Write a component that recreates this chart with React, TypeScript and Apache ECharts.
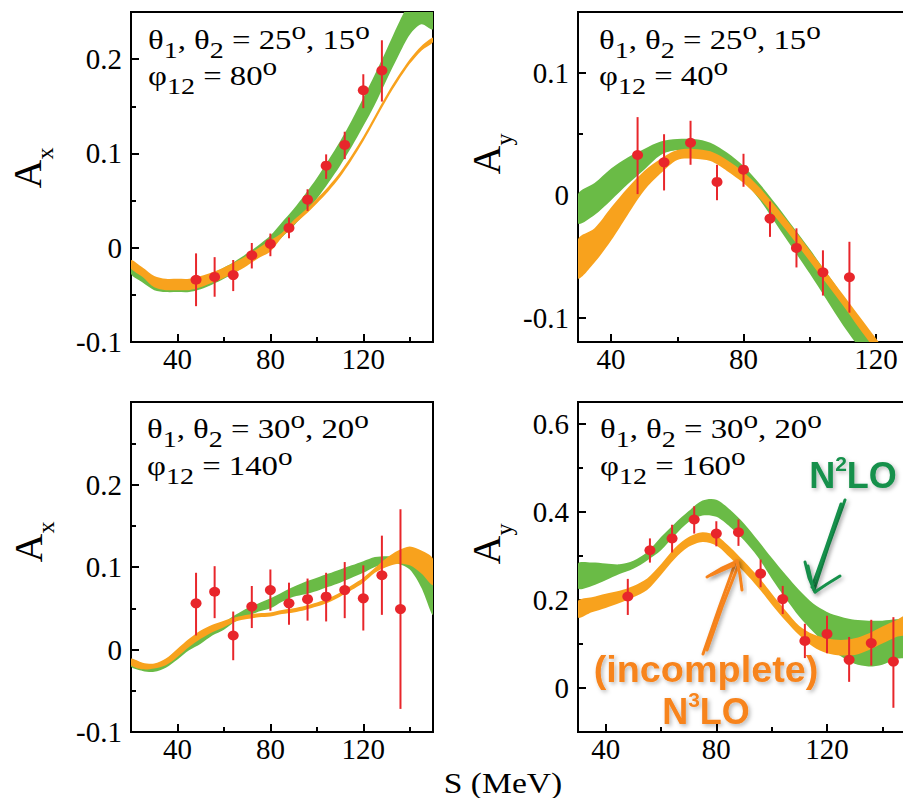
import React, { useEffect, useRef } from 'react';
import * as echarts from 'echarts';

const SERIF = 'Liberation Serif, Times New Roman, serif';
const SANS = 'Liberation Sans, Arial, sans-serif';
const RED = '#e8262b';
const GREEN_BAND = '#6abb46';
const ORANGE_BAND = '#f8a21d';
const GREEN_TEXT = '#14904b';
const ORANGE_TEXT = '#f7841e';

// ---------- Panel 1: A_x, theta 25/15, phi 80 ----------
const p1S = [48, 56, 64, 72, 80, 88, 96, 104, 112, 120, 128];
const p1Val = [-0.034, -0.031, -0.029, -0.008, 0.004, 0.021, 0.051, 0.087, 0.109, 0.167, 0.188];
const p1Lo = [-0.062, -0.052, -0.046, -0.022, -0.009, 0.010, 0.039, 0.073, 0.094, 0.148, 0.155];
const p1Hi = [-0.006, -0.010, -0.013, 0.005, 0.015, 0.032, 0.062, 0.099, 0.123, 0.184, 0.220];
const p1BandS = [20, 25, 30, 35, 40, 45, 50, 55, 60, 65, 70, 75, 80, 85, 90, 95, 100, 105, 110, 115, 120, 125, 130, 135, 140, 145, 150];
const p1N2Lo = [-0.028, -0.037, -0.045, -0.047, -0.047, -0.047, -0.044, -0.039, -0.033, -0.026, -0.018, -0.010, -0.001, 0.011, 0.023, 0.037, 0.052, 0.069, 0.087, 0.107, 0.129, 0.152, 0.178, 0.203, 0.226, 0.237, 0.232];
const p1N2Hi = [-0.015, -0.023, -0.031, -0.034, -0.034, -0.034, -0.031, -0.027, -0.021, -0.014, -0.006, 0.003, 0.013, 0.027, 0.041, 0.057, 0.074, 0.093, 0.113, 0.135, 0.159, 0.184, 0.210, 0.237, 0.262, 0.285, 0.300];
const p1N3Lo = [-0.022, -0.031, -0.042, -0.045, -0.045, -0.045, -0.042, -0.037, -0.032, -0.026, -0.019, -0.011, -0.004, 0.011, 0.024, 0.035, 0.047, 0.060, 0.075, 0.093, 0.113, 0.135, 0.157, 0.177, 0.195, 0.209, 0.218];
const p1N3Hi = [-0.013, -0.021, -0.030, -0.033, -0.033, -0.033, -0.030, -0.026, -0.021, -0.015, -0.008, 0.000, 0.008, 0.016, 0.029, 0.040, 0.052, 0.065, 0.080, 0.098, 0.118, 0.140, 0.162, 0.182, 0.200, 0.214, 0.223];
const p1XTicks = [40, 80, 120];
const p1XMinor = [60, 100, 140];
const p1YTicks = [-0.1, 0, 0.1, 0.2];
const p1YMinor = [-0.05, 0.05, 0.15];

// ---------- Panel 2: A_y, theta 25/15, phi 40 ----------
const p2S = [48, 56, 64, 72, 80, 88, 96, 104, 112];
const p2Val = [0.033, 0.027, 0.043, 0.011, 0.021, -0.019, -0.043, -0.063, -0.067];
const p2Lo = [0.001, 0.004, 0.025, -0.004, 0.007, -0.034, -0.059, -0.082, -0.096];
const p2Hi = [0.064, 0.050, 0.061, 0.025, 0.034, -0.005, -0.027, -0.045, -0.038];
const p2BandS = [30, 35, 40, 45, 50, 55, 60, 65, 70, 75, 80, 85, 90, 95, 100, 105, 110, 115, 120, 125, 130];
const p2N2Hi = [0.001, 0.010, 0.022, 0.031, 0.038, 0.044, 0.046, 0.046, 0.043, 0.035, 0.024, 0.009, -0.008, -0.026, -0.044, -0.063, -0.082, -0.101, -0.120, -0.138, -0.155];
const p2N2Lo = [-0.023, -0.016, -0.004, 0.009, 0.021, 0.033, 0.037, 0.036, 0.032, 0.024, 0.012, -0.004, -0.024, -0.044, -0.064, -0.085, -0.106, -0.125, -0.145, -0.165, -0.185];
const p2N3Hi = [-0.036, -0.027, -0.010, 0.006, 0.020, 0.030, 0.037, 0.038, 0.036, 0.029, 0.019, 0.006, -0.010, -0.027, -0.045, -0.063, -0.081, -0.099, -0.117, -0.135, -0.152];
const p2N3Lo = [-0.068, -0.055, -0.037, -0.016, 0.004, 0.018, 0.029, 0.030, 0.028, 0.020, 0.010, -0.003, -0.019, -0.036, -0.054, -0.072, -0.090, -0.109, -0.127, -0.145, -0.162];
const p2XTicks = [40, 80, 120];
const p2XMinor = [60, 100];
const p2YTicks = [-0.1, 0, 0.1];
const p2YMinor = [-0.05, 0.05];

// ---------- Panel 3: A_x, theta 30/20, phi 140 ----------
const p3S = [48, 56, 64, 72, 80, 88, 96, 104, 112, 120, 128, 136];
const p3Val = [0.056, 0.070, 0.017, 0.052, 0.072, 0.056, 0.061, 0.064, 0.072, 0.062, 0.090, 0.049];
const p3Lo = [0.017, 0.038, -0.013, 0.026, 0.047, 0.030, 0.035, 0.034, 0.038, 0.023, 0.042, -0.072];
const p3Hi = [0.093, 0.101, 0.046, 0.077, 0.097, 0.081, 0.086, 0.093, 0.106, 0.102, 0.138, 0.170];
const p3BandS = [20, 25, 30, 35, 40, 45, 50, 55, 60, 65, 70, 75, 80, 85, 90, 95, 100, 105, 110, 115, 120, 125, 130, 135, 140, 145, 150];
const p3N2Hi = [-0.012, -0.017, -0.018, -0.012, 0.000, 0.010, 0.019, 0.026, 0.033, 0.042, 0.050, 0.056, 0.062, 0.069, 0.076, 0.082, 0.087, 0.092, 0.097, 0.102, 0.107, 0.112, 0.113, 0.112, 0.108, 0.100, 0.080];
const p3N2Lo = [-0.021, -0.026, -0.027, -0.022, -0.012, -0.001, 0.007, 0.017, 0.024, 0.034, 0.040, 0.046, 0.050, 0.058, 0.064, 0.067, 0.071, 0.076, 0.081, 0.087, 0.093, 0.100, 0.105, 0.104, 0.097, 0.075, 0.042];
const p3N3Hi = [-0.011, -0.016, -0.017, -0.011, 0.001, 0.013, 0.023, 0.030, 0.035, 0.039, 0.042, 0.044, 0.045, 0.048, 0.050, 0.053, 0.057, 0.062, 0.069, 0.078, 0.087, 0.099, 0.111, 0.120, 0.125, 0.120, 0.110];
const p3N3Lo = [-0.019, -0.024, -0.023, -0.019, -0.009, 0.003, 0.013, 0.021, 0.027, 0.034, 0.037, 0.039, 0.040, 0.043, 0.045, 0.048, 0.052, 0.057, 0.064, 0.072, 0.081, 0.093, 0.100, 0.104, 0.102, 0.092, 0.078];
const p3XTicks = [40, 80, 120];
const p3XMinor = [60, 100, 140];
const p3YTicks = [-0.1, 0, 0.1, 0.2];
const p3YMinor = [-0.05, 0.05, 0.15, 0.25];

// ---------- Panel 4: A_y, theta 30/20, phi 160 ----------
const p4S = [48, 56, 64, 72, 80, 88, 96, 104, 112, 120, 128, 136, 144];
const p4Val = [0.208, 0.313, 0.340, 0.383, 0.351, 0.354, 0.260, 0.202, 0.107, 0.123, 0.064, 0.102, 0.060];
const p4Lo = [0.166, 0.285, 0.308, 0.351, 0.322, 0.323, 0.229, 0.168, 0.068, 0.079, 0.014, 0.051, -0.045];
const p4Hi = [0.248, 0.340, 0.371, 0.413, 0.379, 0.383, 0.292, 0.232, 0.146, 0.164, 0.116, 0.155, 0.161];
const p4BandS = [30, 35, 40, 45, 50, 55, 60, 65, 70, 75, 80, 85, 90, 95, 100, 105, 110, 115, 120, 125, 130, 135, 140, 145, 150];
const p4N2Hi = [0.283, 0.285, 0.283, 0.281, 0.289, 0.309, 0.343, 0.374, 0.402, 0.426, 0.428, 0.405, 0.374, 0.336, 0.296, 0.258, 0.222, 0.192, 0.173, 0.162, 0.155, 0.153, 0.153, 0.156, 0.159];
const p4N2Lo = [0.226, 0.232, 0.245, 0.259, 0.271, 0.290, 0.313, 0.347, 0.377, 0.392, 0.389, 0.366, 0.336, 0.298, 0.249, 0.204, 0.162, 0.128, 0.098, 0.072, 0.055, 0.049, 0.053, 0.066, 0.073];
const p4N3Hi = [0.198, 0.206, 0.214, 0.221, 0.232, 0.249, 0.281, 0.318, 0.343, 0.354, 0.346, 0.320, 0.288, 0.254, 0.215, 0.176, 0.141, 0.122, 0.113, 0.109, 0.113, 0.124, 0.140, 0.154, 0.168];
const p4N3Lo = [0.160, 0.172, 0.182, 0.193, 0.206, 0.223, 0.257, 0.294, 0.321, 0.332, 0.324, 0.296, 0.264, 0.229, 0.190, 0.153, 0.120, 0.094, 0.079, 0.074, 0.075, 0.086, 0.101, 0.116, 0.124];
const p4XTicks = [40, 80, 120];
const p4XMinor = [60, 100, 140];
const p4YTicks = [0, 0.2, 0.4, 0.6];
const p4YMinor = [0.1, 0.3, 0.5];

// panel annotation texts
const p1Angles = ['{m|θ}{s|1}{m|, θ}{s|2}{m| = 25}{o|o}{m|, 15}{o|o}', '{m|φ}{s|12}{m| = 80}{o|o}'];
const p2Angles = ['{m|θ}{s|1}{m|, θ}{s|2}{m| = 25}{o|o}{m|, 15}{o|o}', '{m|φ}{s|12}{m| = 40}{o|o}'];
const p3Angles = ['{m|θ}{s|1}{m|, θ}{s|2}{m| = 30}{o|o}{m|, 20}{o|o}', '{m|φ}{s|12}{m| = 140}{o|o}'];
const p4Angles = ['{m|θ}{s|1}{m|, θ}{s|2}{m| = 30}{o|o}{m|, 20}{o|o}', '{m|φ}{s|12}{m| = 160}{o|o}'];

const panels = [
  {
    grid: { left: 131, top: 12, width: 302, height: 330 },
    xMin: 20, xMax: 150, yMin: -0.1, yMax: 0.25,
    xTicks: p1XTicks, xMinor: p1XMinor, yTicks: p1YTicks, yMinor: p1YMinor,
    S: p1S, val: p1Val, lo: p1Lo, hi: p1Hi,
    bandS: p1BandS, n2Lo: p1N2Lo, n2Hi: p1N2Hi, n3Lo: p1N3Lo, n3Hi: p1N3Hi,
    angles: p1Angles, annX: 148, annY: [18, 54], yName: 'x', yNamePos: [27, 168],
  },
  {
    grid: { left: 578, top: 12, width: 331, height: 330 },
    xMin: 30, xMax: 130, yMin: -0.12, yMax: 0.15,
    xTicks: p2XTicks, xMinor: p2XMinor, yTicks: p2YTicks, yMinor: p2YMinor,
    S: p2S, val: p2Val, lo: p2Lo, hi: p2Hi,
    bandS: p2BandS, n2Lo: p2N2Lo, n2Hi: p2N2Hi, n3Lo: p2N3Lo, n3Hi: p2N3Hi,
    angles: p2Angles, annX: 599, annY: [18, 54], yName: 'y', yNamePos: [486, 154],
  },
  {
    grid: { left: 131, top: 402, width: 302, height: 330 },
    xMin: 20, xMax: 150, yMin: -0.1, yMax: 0.3,
    xTicks: p3XTicks, xMinor: p3XMinor, yTicks: p3YTicks, yMinor: p3YMinor,
    S: p3S, val: p3Val, lo: p3Lo, hi: p3Hi,
    bandS: p3BandS, n2Lo: p3N2Lo, n2Hi: p3N2Hi, n3Lo: p3N3Lo, n3Hi: p3N3Hi,
    angles: p3Angles, annX: 147, annY: [407, 444], yName: 'x', yNamePos: [28, 542],
  },
  {
    grid: { left: 578, top: 402, width: 332, height: 330 },
    xMin: 30, xMax: 150, yMin: -0.1, yMax: 0.65,
    xTicks: p4XTicks, xMinor: p4XMinor, yTicks: p4YTicks, yMinor: p4YMinor,
    S: p4S, val: p4Val, lo: p4Lo, hi: p4Hi,
    bandS: p4BandS, n2Lo: p4N2Lo, n2Hi: p4N2Hi, n3Lo: p4N3Lo, n3Hi: p4N3Hi,
    angles: p4Angles, annX: 600, annY: [407, 444], yName: 'y', yNamePos: [486, 544],
  },
];

const ANN_RICH = {
  m: { fontSize: 28, fontFamily: SERIF, lineHeight: 44, verticalAlign: 'middle', fill: '#000' },
  s: { fontSize: 24, fontFamily: SERIF, lineHeight: 23, verticalAlign: 'bottom', fill: '#000' },
  o: { fontSize: 25, fontFamily: SERIF, lineHeight: 31, verticalAlign: 'top', fill: '#000' },
};
const AX_RICH = {
  a: { fontSize: 40, fontFamily: SERIF, lineHeight: 60, verticalAlign: 'middle', fill: '#000' },
  b: { fontSize: 24, fontFamily: SERIF, lineHeight: 23, verticalAlign: 'bottom', fill: '#000' },
};
const textShadow = { textShadowColor: 'rgba(0,0,0,0.28)', textShadowBlur: 4, textShadowOffsetX: 2, textShadowOffsetY: 2 };
const legendRich = (color: string) => ({
  n: { fontSize: 36, fontWeight: 'bold', fontFamily: SANS, lineHeight: 44, verticalAlign: 'middle', fill: color, ...textShadow },
  p: { fontSize: 21, fontWeight: 'bold', fontFamily: SANS, lineHeight: 32, verticalAlign: 'top', fill: color, ...textShadow },
});

function bandRender(s: number[], lo: number[], hi: number[], color: string) {
  return (params: any, api: any) => {
    if (params.dataIndex !== 0) return null;
    const pts: number[][] = [];
    for (let i = 0; i < s.length; i++) pts.push(api.coord([s[i], hi[i]]));
    for (let i = s.length - 1; i >= 0; i--) pts.push(api.coord([s[i], lo[i]]));
    const cs = params.coordSys;
    return {
      type: 'polygon',
      shape: { points: pts, smooth: 0.3 },
      style: { fill: color, stroke: null },
      clipPath: { type: 'rect', shape: { x: cs.x, y: cs.y, width: cs.width, height: cs.height } },
      silent: true,
    };
  };
}

function buildOption() {
  const grid: any[] = [];
  const xAxis: any[] = [];
  const yAxis: any[] = [];
  const series: any[] = [];
  const graphic: any[] = [];
  const tickLine = { color: '#000', width: 2 };

  panels.forEach((p, i) => {
    grid.push({ ...p.grid, show: true, borderColor: '#000', borderWidth: 2, backgroundColor: 'transparent', containLabel: false, outerBoundsMode: 'none' });
    xAxis.push({
      gridIndex: i, type: 'value', position: 'bottom', min: p.xMin, max: p.xMax,
      axisLine: { show: true, onZero: false, lineStyle: tickLine },
      axisTick: { show: true, inside: true, length: 8, lineStyle: tickLine, customValues: p.xTicks },
      axisLabel: { customValues: p.xTicks, margin: 2, fontSize: 29, fontFamily: SERIF, color: '#000' },
      splitLine: { show: false },
    });
    xAxis.push({
      gridIndex: i, type: 'value', position: 'bottom', min: p.xMin, max: p.xMax,
      axisLine: { show: false, onZero: false },
      axisTick: { show: true, inside: true, length: 5, lineStyle: tickLine, customValues: p.xMinor },
      axisLabel: { show: false },
      splitLine: { show: false },
    });
    yAxis.push({
      gridIndex: i, type: 'value', position: 'left', min: p.yMin, max: p.yMax,
      axisLine: { show: true, onZero: false, lineStyle: tickLine },
      axisTick: { show: true, inside: true, length: 8, lineStyle: tickLine, customValues: p.yTicks },
      axisLabel: { customValues: p.yTicks, margin: 9, fontSize: 29, fontFamily: SERIF, color: '#000' },
      splitLine: { show: false },
    });
    yAxis.push({
      gridIndex: i, type: 'value', position: 'left', min: p.yMin, max: p.yMax,
      axisLine: { show: false, onZero: false },
      axisTick: { show: true, inside: true, length: 5, lineStyle: tickLine, customValues: p.yMinor },
      axisLabel: { show: false },
      splitLine: { show: false },
    });

    const axIdx = { xAxisIndex: i * 2, yAxisIndex: i * 2 };
    series.push({
      type: 'custom', name: 'N2LO', ...axIdx, silent: true, z: 2,
      data: p.bandS.map((x, k) => [x, p.n2Lo[k], p.n2Hi[k]]),
      encode: { x: 0, y: [1, 2] },
      renderItem: bandRender(p.bandS, p.n2Lo, p.n2Hi, GREEN_BAND),
    });
    series.push({
      type: 'custom', name: 'N3LO', ...axIdx, silent: true, z: 3,
      data: p.bandS.map((x, k) => [x, p.n3Lo[k], p.n3Hi[k]]),
      encode: { x: 0, y: [1, 2] },
      renderItem: bandRender(p.bandS, p.n3Lo, p.n3Hi, ORANGE_BAND),
    });
    series.push({
      type: 'custom', name: 'error', ...axIdx, silent: true, z: 4,
      data: p.S.map((x, k) => [x, p.lo[k], p.hi[k]]),
      encode: { x: 0, y: [1, 2] },
      renderItem: (params: any, api: any) => {
        const a = api.coord([api.value(0), api.value(1)]);
        const b = api.coord([api.value(0), api.value(2)]);
        return { type: 'line', shape: { x1: a[0], y1: a[1], x2: b[0], y2: b[1] }, style: { stroke: RED, lineWidth: 2 } };
      },
    });
    series.push({
      type: 'scatter', name: 'data', ...axIdx, silent: true, z: 5,
      data: p.S.map((x, k) => [x, p.val[k]]),
      symbol: 'circle', symbolSize: [11, 10],
      itemStyle: { color: RED, opacity: 1 },
    });

    p.angles.forEach((t, k) => {
      graphic.push({
        type: 'text', x: p.annX, y: p.annY[k], scaleX: 1.17, silent: true, z: 20,
        style: { text: t, rich: ANN_RICH, fontFamily: SERIF, align: 'left', verticalAlign: 'top' },
      });
    });
    graphic.push({
      type: 'text', x: p.yNamePos[0], y: p.yNamePos[1], rotation: Math.PI / 2, silent: true, z: 20,
      style: { text: '{a|A}{b|' + p.yName + '}', rich: AX_RICH, fontFamily: SERIF, align: 'center', verticalAlign: 'middle' },
    });
  });

  graphic.push({
    type: 'text', x: 503, y: 783, scaleX: 1.12, silent: true, z: 20,
    style: { text: 'S (MeV)', fontSize: 30, fontFamily: SERIF, fill: '#000', align: 'center', verticalAlign: 'middle' },
  });

  graphic.push({
    type: 'text', x: 853, y: 475, silent: true, z: 30,
    style: { text: '{n|N}{p|2}{n|LO}', rich: legendRich(GREEN_TEXT), align: 'center', verticalAlign: 'middle' },
  });
  graphic.push({
    type: 'text', x: 706, y: 670, scaleX: 1.05, silent: true, z: 30,
    style: { text: '(incomplete)', fontSize: 36, fontWeight: 'bold', fontFamily: SANS, fill: ORANGE_TEXT, align: 'center', verticalAlign: 'middle', ...textShadow },
  });
  graphic.push({
    type: 'text', x: 706, y: 711, silent: true, z: 30,
    style: { text: '{n|N}{p|3}{n|LO}', rich: legendRich(ORANGE_TEXT), align: 'center', verticalAlign: 'middle' },
  });

  const shadow = { shadowColor: 'rgba(0,0,0,0.3)', shadowBlur: 4, shadowOffsetX: 2, shadowOffsetY: 2 };
  const greenStrokes = [
    [[845, 500], [828, 547], [814, 590]],
    [[841, 504], [826, 548], [812, 587]],
    [[805, 562], [809, 578], [815, 592]],
    [[808, 566], [813, 588]],
    [[840, 576], [827, 584], [815, 592]],
  ];
  const orangeStrokes = [
    [[703, 654], [719, 608], [736, 561]],
    [[707, 650], [722, 607], [738, 566]],
    [[707, 577], [722, 568], [737, 561]],
    [[711, 575], [734, 565]],
    [[742, 590], [740, 575], [737, 561]],
  ];
  greenStrokes.forEach((pts) => graphic.push({
    type: 'polyline', silent: true, z: 30, shape: { points: pts },
    style: { stroke: GREEN_TEXT, lineWidth: 3, lineCap: 'round', lineJoin: 'round', fill: null, ...shadow },
  }));
  orangeStrokes.forEach((pts) => graphic.push({
    type: 'polyline', silent: true, z: 30, shape: { points: pts },
    style: { stroke: ORANGE_TEXT, lineWidth: 3, lineCap: 'round', lineJoin: 'round', fill: null, ...shadow },
  }));

  return {
    animation: false, backgroundColor: '#fff',
    textStyle: { fontFamily: SERIF },
    grid, xAxis, yAxis, series, graphic,
  };
}

export default function App() {
  const ref = useRef<HTMLDivElement>(null);
  useEffect(() => {
    if (!ref.current) return;
    const chart = echarts.init(ref.current, null, { renderer: 'svg' });
    chart.setOption(buildOption() as any);
    return () => chart.dispose();
  }, []);
  return <div ref={ref} style={{ position: 'fixed', left: 0, top: 0, width: 903, height: 798 }} />;
}
